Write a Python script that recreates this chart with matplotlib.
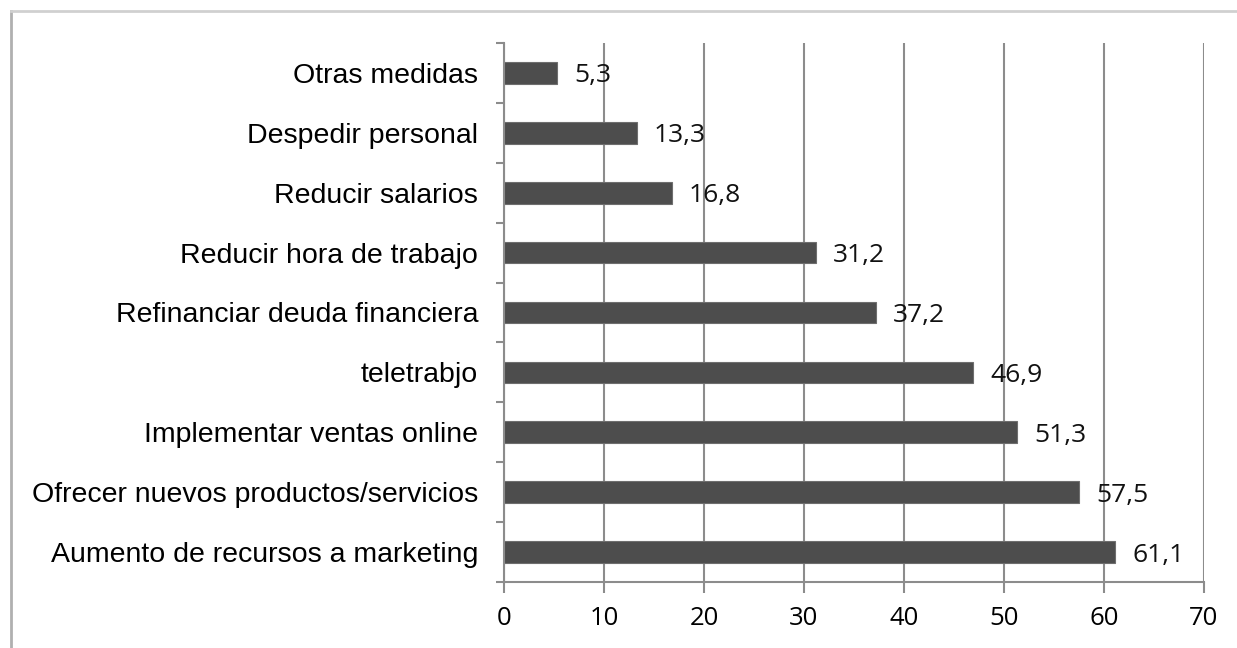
import matplotlib
matplotlib.use("Agg")
from matplotlib import pyplot as plt
from matplotlib.lines import Line2D

categories = ['Aumento de recursos a marketing', 'Ofrecer nuevos productos/servicios',
              'Implementar ventas online', 'teletrabjo', 'Refinanciar deuda financiera',
              'Reducir hora de trabajo', 'Reducir salarios', 'Despedir personal',
              'Otras medidas']
values = [61.1, 57.5, 51.3, 46.9, 37.2, 31.2, 16.8, 13.3, 5.3]
x_ticks = [0, 10, 20, 30, 40, 50, 60, 70]

grid_color = '#8c8c8c'

fig = plt.figure(figsize=(12.37, 6.48), dpi=100)
ax = fig.add_axes([504 / 1237, 1 - 582 / 648, 700 / 1237, 539 / 648])

# Gridlines behind bars
ax.set_axisbelow(True)
ax.xaxis.grid(True, color=grid_color, linewidth=1.5)

pos = list(range(len(categories)))
ax.barh(pos, values, height=0.36, color='#4d4d4d', edgecolor='#6e6e6e', linewidth=0.8)

for p, v in zip(pos, values):
    ax.text(v + 1.7, p, f'{v:.1f}'.replace('.', ','), va='center_baseline', ha='left',
            fontsize=19, family='Open Sans', color='#111111')

ax.set_xlim(0, 70)
ax.set_ylim(-0.5, len(categories) - 0.5)
ax.set_xticks(x_ticks)
ax.set_xticklabels([str(t) for t in x_ticks], fontsize=18.5, family='Open Sans')

# category labels at bar centres, ticks at category boundaries
ax.set_yticks(pos)
ax.set_yticklabels(categories, fontsize=20.5, family='Liberation Sans')
ax.tick_params(axis='y', length=0, pad=18.7)
ax.set_yticks([p - 0.5 for p in pos] + [len(pos) - 0.5], minor=True)
ax.tick_params(axis='y', which='minor', length=6, color=grid_color, width=1.5)
ax.tick_params(axis='x', length=8, color=grid_color, width=1.5, pad=9)

for side in ['top', 'right']:
    ax.spines[side].set_visible(False)
for side in ['left', 'bottom']:
    ax.spines[side].set_color(grid_color)
    ax.spines[side].set_linewidth(1.5)

# outer frame (only top and left edges visible)
fig.add_artist(Line2D([11 / 1237, 11 / 1237], [0, 1 - 11 / 648], color='#b0b0b0', linewidth=2,
                      transform=fig.transFigure))
fig.add_artist(Line2D([11 / 1237, 1], [1 - 11 / 648, 1 - 11 / 648], color='#d0d0d0', linewidth=2,
                      transform=fig.transFigure))

fig.savefig('out.png', dpi=100)
